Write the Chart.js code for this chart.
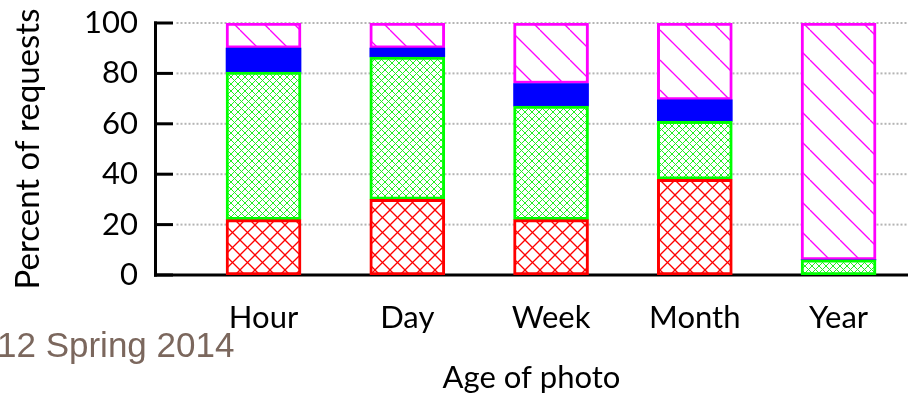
<!DOCTYPE html>
<html>
<head>
<meta charset="utf-8">
<script src="https://cdn.jsdelivr.net/npm/chart.js@4"></script>
<style>
    html, body { margin: 0; padding: 0; background: #ffffff; }
    #wrap { width: 908px; height: 398px; position: relative; }
</style>
</head>
<body>
<div id="wrap"><canvas id="chart-age"></canvas></div>
<script>
// Edades de la foto (categorías del eje X)
const categorias = ['Hour', 'Day', 'Week', 'Month', 'Year'];

// Porcentaje de peticiones por capa (de abajo hacia arriba)
const capaRoja = [22, 30, 22, 38, 0];
const capaVerde = [58.5, 56.5, 45, 23, 6];
const capaAzul = [9.5, 3.5, 9, 8.5, 0];
const capaMagenta = [10, 10, 24, 30.5, 94];

const ticksY = [0, 20, 40, 60, 80, 100];

const fuente = 'Lato';

// Crea un patrón de rayado sobre fondo blanco
function crearPatron(tam, color, ancho, cruzado) {
    const c = document.createElement('canvas');
    c.width = tam;
    c.height = tam;
    const g = c.getContext('2d');
    g.fillStyle = '#ffffff';
    g.fillRect(0, 0, tam, tam);
    g.strokeStyle = color;
    g.lineWidth = ancho;
    [-tam, 0, tam].forEach(k => {
        g.beginPath();
        g.moveTo(k, 0);
        g.lineTo(k + tam, tam);
        g.stroke();
        if (cruzado) {
            g.beginPath();
            g.moveTo(k + tam, 0);
            g.lineTo(k, tam);
            g.stroke();
        }
    });
    return g.createPattern(c, 'repeat');
}

function puntos(valores) {
    return valores.map((v, i) => ({ x: i, y: v }));
}

// Rejilla punteada detrás de las barras, ejes y marcas hacia dentro, texto de pie
const extras = {
    id: 'extras',
    beforeDatasetsDraw(chart) {
        const ctx = chart.ctx;
        const y = chart.scales.y;
        const area = chart.chartArea;
        const x0 = Math.round(area.left) + 0.5;
        ctx.save();
        ctx.strokeStyle = '#b4b4b4';
        ctx.lineWidth = 2;
        ctx.setLineDash([2, 2]);
        ticksY.forEach(v => {
            const py = y.getPixelForValue(v);
            ctx.beginPath();
            ctx.moveTo(x0 + 21, py);
            ctx.lineTo(area.right, py);
            ctx.stroke();
        });
        ctx.restore();
        // eje inferior
        ctx.save();
        ctx.strokeStyle = '#000000';
        ctx.lineWidth = 3;
        ctx.beginPath();
        ctx.moveTo(x0 - 1.5, y.getPixelForValue(0));
        ctx.lineTo(area.right, y.getPixelForValue(0));
        ctx.stroke();
        ctx.restore();
    },
    afterDraw(chart) {
        const ctx = chart.ctx;
        const y = chart.scales.y;
        const area = chart.chartArea;
        const x0 = Math.round(area.left) + 0.5;
        ctx.save();
        ctx.fillStyle = '#000000';
        // eje izquierdo
        const top = y.getPixelForValue(100);
        const bottom = y.getPixelForValue(0);
        ctx.fillRect(x0 - 1.5, top - 1.5, 3, bottom - top + 3);
        // marcas hacia dentro
        ticksY.forEach(v => {
            const py = y.getPixelForValue(v);
            ctx.fillRect(x0 - 1.5, py - 1.5, 19, 3);
        });
        ctx.font = '35px "Liberation Sans"';
        ctx.fillStyle = '#7b675d';
        ctx.textBaseline = 'alphabetic';
        ctx.fillText('12 Spring 2014', -3, 357);
        ctx.restore();
    }
};

const ctx = document.getElementById('chart-age');

new Chart(ctx, {
    type: 'bar',
    data: {
        datasets: [
            {
                label: 'rojo',
                data: puntos(capaRoja),
                backgroundColor: crearPatron(15, '#ff0000', 1.3, true),
                borderColor: '#ff0000',
                borderWidth: 3
            },
            {
                label: 'verde',
                data: puntos(capaVerde),
                backgroundColor: crearPatron(7, '#22ee22', 1, true),
                borderColor: '#00ff00',
                borderWidth: 3
            },
            {
                label: 'azul',
                data: puntos(capaAzul),
                backgroundColor: '#0000ff',
                borderColor: '#0000ff',
                borderWidth: 0
            },
            {
                label: 'magenta',
                data: puntos(capaMagenta),
                backgroundColor: crearPatron(30, '#ff00ff', 1.3, false),
                borderColor: '#ff00ff',
                borderWidth: 3
            }
        ]
    },
    options: {
        responsive: true,
        maintainAspectRatio: false,
        animation: false,
        datasets: {
            bar: {
                barThickness: 75,
                borderSkipped: false
            }
        },
        layout: {
            padding: { top: 23, right: 0, left: 0, bottom: 0 }
        },
        plugins: {
            legend: { display: false },
            tooltip: { enabled: false }
        },
        scales: {
            x: {
                type: 'linear',
                stacked: true,
                offset: false,
                min: -0.755,
                max: 4.483,
                afterFit: function(scale) {
                    scale.height = 123;
                    scale.paddingLeft = 0;
                    scale.paddingRight = 0;
                },
                grid: { display: false, drawTicks: false, offset: false },
                border: { display: false },
                ticks: {
                    stepSize: 1,
                    includeBounds: false,
                    autoSkip: false,
                    maxRotation: 0,
                    padding: 24,
                    color: '#000000',
                    font: { family: fuente, size: 31 },
                    callback: function(value) {
                        return Number.isInteger(value) ? categorias[value] : '';
                    }
                },
                title: {
                    display: true,
                    text: 'Age of photo',
                    color: '#000000',
                    font: { family: fuente, size: 31 },
                    padding: { top: 0, bottom: 1 }
                }
            },
            y: {
                stacked: true,
                min: 0,
                max: 100,
                afterFit: function(scale) {
                    scale.width = 155;
                    scale.paddingTop = 0;
                    scale.paddingBottom = 0;
                },
                grid: { display: false, drawTicks: false },
                border: { display: false },
                ticks: {
                    stepSize: 20,
                    padding: 17,
                    color: '#000000',
                    font: { family: fuente, size: 31 }
                },
                title: {
                    display: true,
                    text: 'Percent of requests',
                    color: '#000000',
                    font: { family: fuente, size: 33 },
                    padding: { top: 9, bottom: 0 }
                }
            }
        }
    },
    plugins: [extras]
});
</script>
</body>
</html>
